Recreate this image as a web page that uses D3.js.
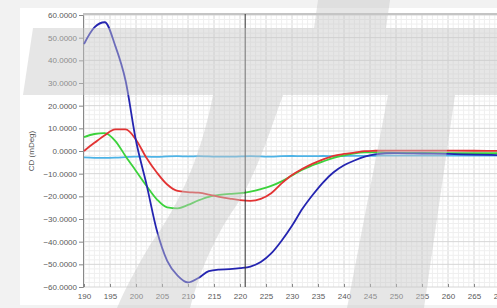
<!DOCTYPE html>
<html lang="en">
<head>
    <meta charset="UTF-8">
    <title>CD Spectrum</title>
    <style>
        body { margin: 0; background: #f2f2f2; font-family: "Liberation Sans", Arial, sans-serif; }
        svg { display: block; }
        .tick text { fill: #5a5a5a; font-size: 8px; }
    </style>
</head>
<body>
    <div id="chart"></div>
    <script src="https://d3js.org/d3.v7.min.js"></script>
    <script>
        // Wavelength grid (nm)
        const wavelength = [190, 192, 194, 196, 198, 200, 202, 204, 206, 208, 210, 212, 214, 216, 218, 220,
            222, 224, 226, 228, 230, 232, 234, 236, 238, 240, 242, 244, 246, 248, 250, 255, 260, 265, 270];

        // CD values (mDeg) for each sample
        const blueSeries = [47.2, 54.5, 56.8, 46.5, 31, 4.5, -14.5, -35, -48.5, -55, -58, -56, -53, -52.3, -52.1, -51.7,
            -51, -49, -45.2, -39.6, -33, -25.5, -19.3, -13.8, -9.4, -6.3, -4.2, -2.5, -1.5, -1, -0.9, -1.1, -1.3, -1.6, -1.8];
        const redSeries = [0, 3.6, 7, 9.5, 9.5, 5, -3, -9.5, -14.8, -17.6, -18.1, -18.4, -19.2, -20.2, -21, -21.7,
            -22, -21.1, -18.6, -14.3, -10.6, -7.9, -5.6, -3.7, -2.1, -1.3, -0.7, -0.1, 0.1, 0.2, 0.2, 0.2, 0.2, 0.1, 0];
        const greenSeries = [6.1, 7.5, 7.9, 4.5, -2.3, -8.8, -15.3, -21.3, -24.9, -25.3, -23.8, -21.8, -20.2, -19.4, -18.9, -18.6,
            -17.9, -16.8, -15.4, -13.4, -10.8, -8.2, -6.3, -4.6, -3, -1.9, -1, -0.6, -0.6, -0.7, -0.8, -0.8, -0.9, -1, -1];
        const cyanSeries = [-2.8, -3, -3, -2.9, -2.7, -2.5, -2.5, -2.6, -2.4, -2.3, -2.4, -2.3, -2.4, -2.5, -2.5, -2.4,
            -2.3, -2.4, -2.5, -2.3, -2.2, -2.3, -2.3, -2.2, -2.3, -2.2, -2.1, -2.2, -2.1, -2, -2, -2, -2, -2, -2];

        const xTicks = d3.range(190, 275, 5);
        const yTicks = d3.range(-60, 70, 10);
        const cursorAt = 221;

        const series = [
            { values: cyanSeries, color: '#4db3e6' },
            { values: greenSeries, color: '#3bd23b' },
            { values: redSeries, color: '#e23333' },
            { values: blueSeries, color: '#2424b0' }
        ];

        const W = 497, H = 308;
        const svg = d3.select('#chart').append('svg').attr('width', W).attr('height', H);

        // white panel
        svg.append('rect').attr('x', 20).attr('y', 8).attr('width', W - 20).attr('height', 297).attr('fill', '#fff');

        const x = d3.scaleLinear().domain([190, 270]).range([84, 500]);
        const y = d3.scaleLinear().domain([-60, 60]).range([287, 15]);

        const plot = svg.append('g');
        plot.append('clipPath').attr('id', 'clip')
            .append('rect').attr('x', 83).attr('y', 14).attr('width', W - 83).attr('height', 274);

        // grid
        plot.append('g').selectAll('line').data(d3.range(190, 271, 1))
            .join('line')
            .attr('x1', d => x(d)).attr('x2', d => x(d)).attr('y1', y(60)).attr('y2', y(-60))
            .attr('stroke', d => d % 5 === 0 ? '#d6d6d6' : '#efefef').attr('stroke-width', 1);
        plot.append('g').selectAll('line').data(d3.range(-60, 61, 2))
            .join('line')
            .attr('x1', 83).attr('x2', W).attr('y1', d => y(d)).attr('y2', d => y(d))
            .attr('stroke', d => d % 10 === 0 ? '#d6d6d6' : '#efefef').attr('stroke-width', 1);

        // top frame
        plot.append('line').attr('x1', 83).attr('x2', W).attr('y1', 14).attr('y2', 14)
            .attr('stroke', '#c4c4c4').attr('stroke-width', 2);

        // y axis
        const yAxis = plot.append('g').attr('transform', 'translate(83,0)')
            .call(d3.axisLeft(y).tickValues(yTicks).tickSize(4).tickPadding(2).tickFormat(d3.format('.4f')));
        yAxis.select('.domain').attr('stroke', '#888');
        yAxis.selectAll('.tick line').attr('stroke', '#888');

        // x axis labels
        const xAxis = plot.append('g').attr('transform', `translate(0,${y(-60)})`)
            .call(d3.axisBottom(x).tickValues(xTicks).tickSize(-3).tickPadding(6));
        xAxis.select('.domain').remove();
        xAxis.selectAll('.tick line').attr('stroke', '#888');

        // y label
        svg.append('text')
            .attr('transform', `translate(34,${y(0)}) rotate(-90)`)
            .attr('text-anchor', 'middle')
            .attr('fill', '#555').attr('font-size', 8)
            .text('CD (mDeg)');

        // curves
        const line = d3.line()
            .x((d, i) => x(wavelength[i]))
            .y(d => y(d))
            .curve(d3.curveMonotoneX);
        plot.append('g').attr('clip-path', 'url(#clip)')
            .selectAll('path').data(series).join('path')
            .attr('d', d => line(d.values))
            .attr('fill', 'none')
            .attr('stroke', d => d.color)
            .attr('stroke-width', 1.8);

        // cursor line
        plot.append('line')
            .attr('x1', x(cursorAt)).attr('x2', x(cursorAt))
            .attr('y1', 14).attr('y2', y(-60))
            .attr('stroke', '#333').attr('stroke-width', 1);

        // watermark overlay
        const wm = svg.append('g').attr('fill', 'rgba(200,200,200,0.45)');
        wm.append('path').attr('d', 'M33,28 L497,28 L497,95 L23,95 Z');
        wm.append('path').attr('d', 'M318,0 L390,0 L386,28 L314,28 Z');
        wm.append('path').attr('d', 'M388,95 L455,95 L424,308 L347,308 Z');
        wm.append('path').attr('d',
            'M213,95 C205,135 190,190 150,245 C138,265 126,287 117,308 L190,308 C200,270 215,235 240,200 C260,165 272,125 283,95 Z');
    </script>
</body>
</html>
